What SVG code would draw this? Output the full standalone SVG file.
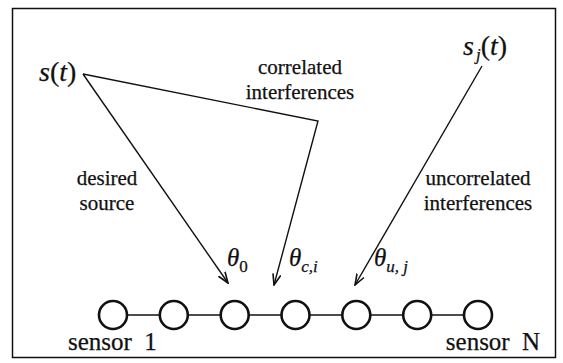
<svg xmlns="http://www.w3.org/2000/svg" width="563" height="363" viewBox="0 0 563 363">
<defs>
<style>
text{font-family:"Liberation Serif","Times New Roman",Tinos,Times,"Noto Serif","DejaVu Serif",serif;fill:#111;stroke:#111;stroke-width:0.25}
.lbl{font-size:21px;text-anchor:middle}
.sym{font-size:28px}
.th{font-size:25px;font-style:italic}
.sub{font-size:17px}
.sen{font-size:25px;word-spacing:6px}
.ln{fill:none;stroke:#111;stroke-width:1.4}
.node{fill:#fff;stroke:#111;stroke-width:2.6}
</style>
<marker id="arr" viewBox="0 0 12 10" refX="11" refY="5" markerWidth="12" markerHeight="10" markerUnits="userSpaceOnUse" orient="auto">
<path d="M0,1 L11,5 L0,9" fill="none" stroke="#111" stroke-width="1.6"/>
</marker>
</defs>
<rect x="12.5" y="8.5" width="543" height="349" fill="#fff" stroke="#111" stroke-width="1.5"/>
<g id="connectors">
<line class="ln" x1="83" y1="74" x2="228" y2="283" marker-end="url(#arr)"/>
<polyline class="ln" points="83,74 318,121 274,285" marker-end="url(#arr)"/>
<line class="ln" x1="482" y1="66" x2="355" y2="285" marker-end="url(#arr)"/>
<line class="ln" x1="113" y1="315" x2="478" y2="315"/>
</g>
<g id="source-s">
<text class="sym" x="39" y="81"><tspan font-style="italic">s</tspan>(<tspan font-style="italic">t</tspan>)</text>
</g>
<g id="source-sj">
<text class="sym" x="463" y="55"><tspan font-style="italic">s</tspan><tspan class="sub" font-style="italic" dx="2" dy="5">j</tspan><tspan dy="-5">(<tspan font-style="italic">t</tspan>)</tspan></text>
</g>
<g id="label-correlated">
<text class="lbl" x="300" y="74">correlated</text>
<text class="lbl" x="300" y="99">interferences</text>
</g>
<g id="label-desired">
<text class="lbl" x="107" y="185">desired</text>
<text class="lbl" x="107" y="210">source</text>
</g>
<g id="label-uncorrelated">
<text class="lbl" x="478" y="185">uncorrelated</text>
<text class="lbl" x="478" y="210">interferences</text>
</g>
<g id="angles">
<text class="th" x="227" y="266">θ<tspan class="sub" font-style="normal" dy="6">0</tspan></text>
<text class="th" x="289" y="266">θ<tspan class="sub" dy="6">c,i</tspan></text>
<text class="th" x="374" y="266">θ<tspan class="sub" dy="6">u, j</tspan></text>
</g>
<g id="sensors">
<circle id="s1" class="node" cx="113" cy="315" r="14"/>
<circle id="s2" class="node" cx="173.8" cy="315" r="14"/>
<circle id="s3" class="node" cx="234.7" cy="315" r="14"/>
<circle id="s4" class="node" cx="295.5" cy="315" r="14"/>
<circle id="s5" class="node" cx="356.3" cy="315" r="14"/>
<circle id="s6" class="node" cx="417.2" cy="315" r="14"/>
<circle id="s7" class="node" cx="478" cy="315" r="14"/>
</g>
<g id="sensor-labels">
<text class="sen" x="68" y="350">sensor 1</text>
<text class="sen" x="540" y="350" text-anchor="end">sensor N</text>
</g>
</svg>
